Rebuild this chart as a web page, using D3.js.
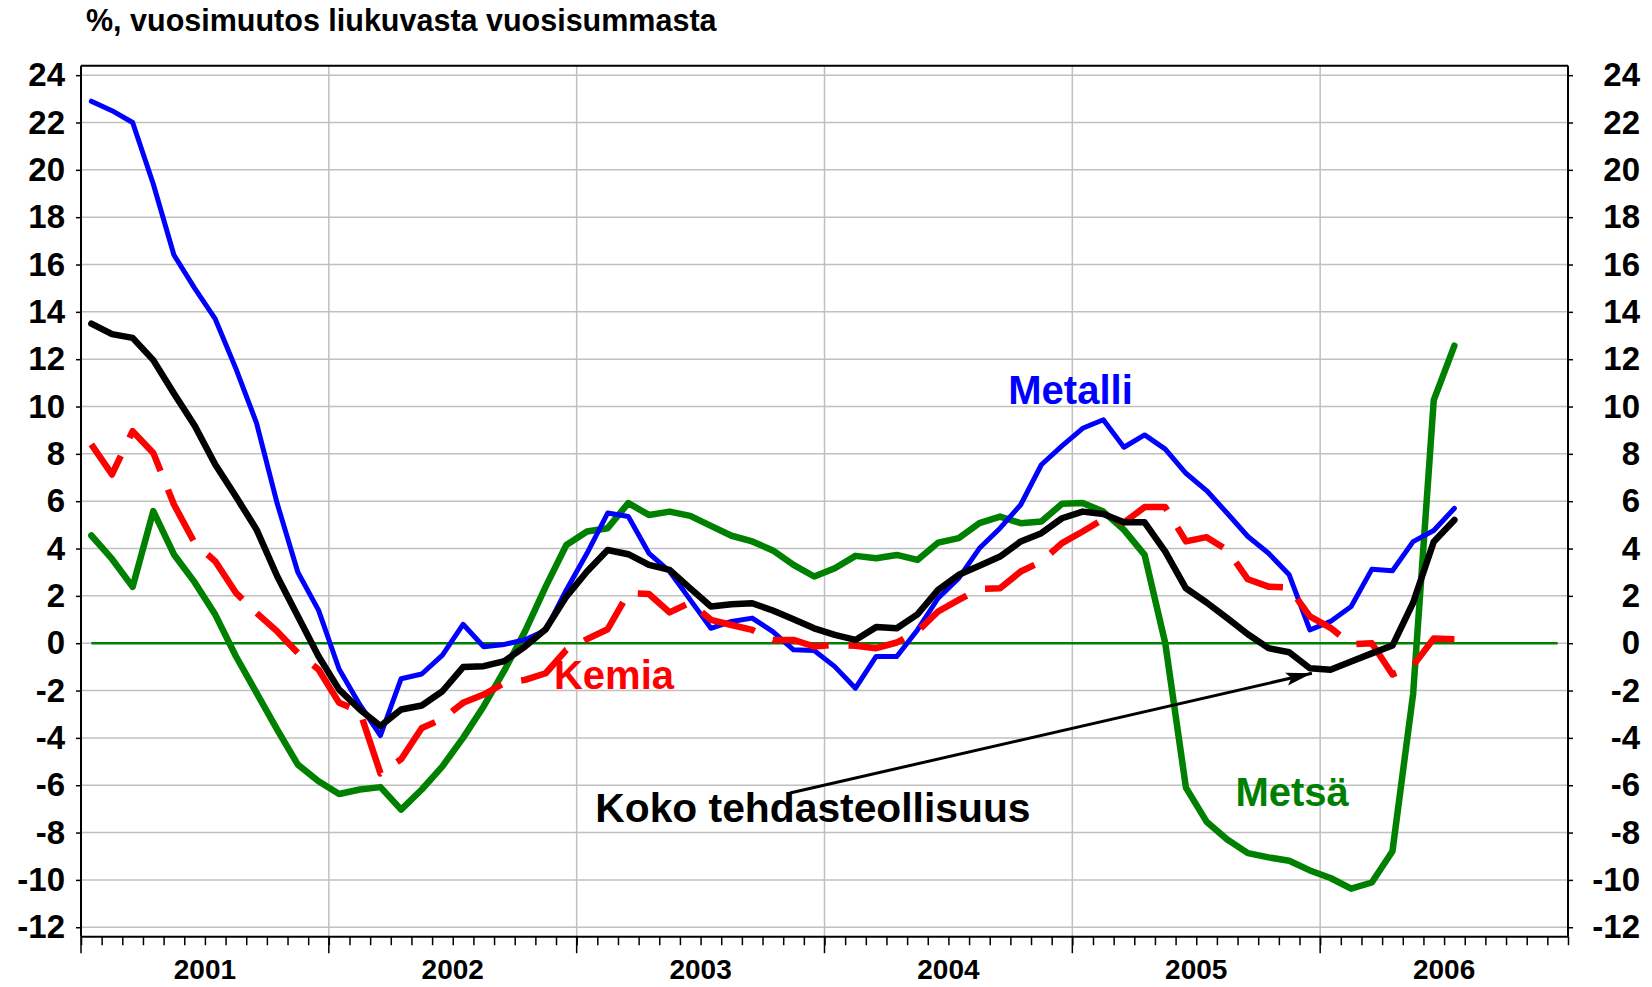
<!DOCTYPE html>
<html>
<head>
<meta charset="utf-8">
<script src="https://cdn.jsdelivr.net/npm/d3@7"></script>
<style>
  body { margin: 0; background: #fff; }
  svg { display: block; font-family: "Liberation Sans", Arial, sans-serif; font-weight: bold; }
</style>
</head>
<body>
<div id="chart"></div>
<script>
// monthly values Jan 2001 .. Jul 2006
const years = ["2001", "2002", "2003", "2004", "2005", "2006"];
const yTicks = d3.range(-12, 25, 2);

const metalli = [22.9, 22.5, 22.0, 19.4, 16.4, 15.0, 13.7, 11.6, 9.3, 5.9, 3.0, 1.4,
    -1.1, -2.6, -3.9, -1.5, -1.3, -0.5, 0.8, -0.15, -0.05, 0.15, 0.55, 2.25,
    3.8, 5.5, 5.35, 3.8, 3.03, 1.83, 0.63, 0.92, 1.06, 0.49, -0.28, -0.31,
    -0.99, -1.9, -0.56, -0.56, 0.56, 1.9, 2.75, 4.01, 4.86, 5.85, 7.54, 8.34,
    9.08, 9.44, 8.28, 8.8, 8.2, 7.18, 6.45, 5.49, 4.51, 3.8, 2.89, 0.56,
    0.92, 1.55, 3.12, 3.06, 4.29, 4.76, 5.7];

const koko = [13.5, 13.06, 12.9, 11.96, 10.55, 9.2, 7.55, 6.2, 4.8, 2.83, 1.14, -0.55,
    -1.96, -2.8, -3.5, -2.8, -2.63, -2.03, -1.01, -0.97, -0.76, -0.14, 0.59, 1.97,
    3.03, 3.94, 3.76, 3.31, 3.1, 2.32, 1.55, 1.65, 1.69, 1.38, 1.01, 0.63,
    0.35, 0.14, 0.68, 0.63, 1.22, 2.25, 2.89, 3.27, 3.66, 4.3, 4.65, 5.28,
    5.56, 5.46, 5.11, 5.11, 3.87, 2.32, 1.72, 1.06, 0.38, -0.21, -0.38, -1.06,
    -1.12, -0.77, -0.43, -0.1, 1.71, 4.29, 5.21];

const kemia = [8.4, 7.13, 8.96, 8.04, 5.86, 4.24, 3.46, 2.13, 1.28, 0.5, -0.41, -1.11,
    -2.52, -2.87, -5.5, -4.9, -3.58, -3.2, -2.52, -2.17, -1.68, -1.55, -1.27, -0.28,
    0.17, 0.59, 2.11, 2.08, 1.3, 1.72, 0.99, 0.77, 0.56, 0.14, 0.14, -0.14,
    -0.07, -0.11, -0.21, 0.03, 0.5, 1.34, 1.83, 2.3, 2.32, 3.03, 3.45, 4.23,
    4.72, 5.24, 5.1, 5.75, 5.75, 4.3, 4.48, 3.94, 2.7, 2.39, 2.35, 1.13,
    0.65, -0.05, 0.0, -1.32, -0.95, 0.2, 0.17];

const metsa = [4.55, 3.56, 2.38, 5.58, 3.75, 2.58, 1.21, -0.55, -2.1, -3.65, -5.13, -5.83,
    -6.37, -6.18, -6.08, -7.03, -6.18, -5.2, -4.0, -2.66, -1.15, 0.5, 2.39, 4.15,
    4.72, 4.86, 5.92, 5.42, 5.56, 5.38, 4.96, 4.54, 4.3, 3.92, 3.31, 2.82,
    3.17, 3.69, 3.59, 3.73, 3.52, 4.25, 4.44, 5.07, 5.35, 5.07, 5.14, 5.89,
    5.92, 5.56, 4.79, 3.73, 0.0, -6.1, -7.54, -8.29, -8.87, -9.05, -9.19, -9.6,
    -9.92, -10.37, -10.11, -8.79, -2.15, 10.27, 12.57];

const seriesNames = ["Metsä", "Metalli", "Kemia", "Koko tehdasteollisuus"];

class IndustryChart {
    constructor(containerId) {
        this.width = 1652;
        this.height = 987;
        this.plot = { left: 81, right: 1568, top: 65.7, bottom: 936.7 };
        this.nMonths = 72;

        this.svg = d3.select(`#${containerId}`)
            .append("svg")
            .attr("width", this.width)
            .attr("height", this.height);

        this.x = d3.scaleLinear()
            .domain([0, this.nMonths])
            .range([this.plot.left, this.plot.right]);

        this.y = d3.scaleLinear()
            .domain([-12.4, 24.4])
            .range([this.plot.bottom, this.plot.top]);

        this.drawGrid();
        this.drawAxes();
        this.drawSeries();
        this.drawLabels();
    }

    drawGrid() {
        const g = this.svg.append("g").attr("class", "grid");
        g.selectAll(".hgrid")
            .data(yTicks)
            .join("line")
            .attr("x1", this.plot.left).attr("x2", this.plot.right)
            .attr("y1", d => this.y(d)).attr("y2", d => this.y(d))
            .attr("stroke", "#c0c0c0").attr("stroke-width", 1.5);

        g.selectAll(".vgrid")
            .data(d3.range(1, years.length))
            .join("line")
            .attr("x1", d => this.x(d * 12)).attr("x2", d => this.x(d * 12))
            .attr("y1", this.plot.top).attr("y2", this.plot.bottom)
            .attr("stroke", "#c0c0c0").attr("stroke-width", 1.5);
    }

    drawAxes() {
        const fontSize = 33;
        const fmt = d => String(d); // plain hyphen minus like the original

        const left = this.svg.append("g")
            .attr("transform", `translate(${this.plot.left},0)`)
            .call(d3.axisLeft(this.y).tickValues(yTicks).tickFormat(fmt).tickSize(5).tickPadding(11).tickSizeOuter(0));
        const right = this.svg.append("g")
            .attr("transform", `translate(${this.plot.right},0)`)
            .call(d3.axisRight(this.y).tickValues(yTicks).tickFormat(fmt).tickSize(5).tickPadding(11).tickSizeOuter(0));
        right.selectAll("text").attr("text-anchor", "end").attr("x", 72);

        [left, right].forEach(a => {
            a.selectAll("text")
                .attr("font-size", fontSize)
                .attr("font-family", "Liberation Sans, Arial, sans-serif")
                .attr("font-weight", "bold")
                .attr("fill", "#000");
            a.selectAll("line").attr("stroke", "#000").attr("stroke-width", 1.5);
            a.select(".domain").attr("stroke", "#000").attr("stroke-width", 2)
                .attr("d", `M0,${this.plot.top}V${this.plot.bottom}`);
        });

        // top border
        this.svg.append("line")
            .attr("x1", this.plot.left).attr("x2", this.plot.right)
            .attr("y1", this.plot.top).attr("y2", this.plot.top)
            .attr("stroke", "#000").attr("stroke-width", 2);

        // bottom axis: month ticks + year ticks
        const bottom = this.svg.append("g")
            .attr("transform", `translate(0,${this.plot.bottom})`)
            .call(d3.axisBottom(this.x).tickValues(d3.range(0, this.nMonths + 1)).tickSize(8.5).tickFormat("").tickSizeOuter(0));
        bottom.selectAll("line").attr("stroke", "#000").attr("stroke-width", 1.5);
        bottom.select(".domain").attr("stroke", "#000").attr("stroke-width", 2)
            .attr("d", `M${this.plot.left},0H${this.plot.right}`);

        this.svg.append("g")
            .selectAll("line")
            .data(d3.range(0, years.length))
            .join("line")
            .attr("x1", d => this.x(d * 12)).attr("x2", d => this.x(d * 12))
            .attr("y1", this.plot.bottom).attr("y2", this.plot.bottom + 16.5)
            .attr("stroke", "#000").attr("stroke-width", 1.5);

        this.svg.append("g")
            .selectAll("text")
            .data(years)
            .join("text")
            .attr("x", (d, i) => this.x(i * 12 + 6))
            .attr("y", 979)
            .attr("text-anchor", "middle")
            .attr("font-size", 28)
            .text(d => d);

        this.svg.append("text")
            .attr("x", 86)
            .attr("y", 31)
            .attr("font-size", 30.5)
            .text("%, vuosimuutos liukuvasta vuosisummasta");
    }

    drawSeries() {
        // zero reference line across all months
        this.svg.append("line")
            .attr("x1", this.x(0.5)).attr("x2", this.x(this.nMonths - 0.5))
            .attr("y1", this.y(0)).attr("y2", this.y(0))
            .attr("stroke", "#008000").attr("stroke-width", 2.5);

        const line = d3.line()
            .x((d, i) => this.x(i + 0.5))
            .y(d => this.y(d));

        const series = [
            { values: metsa, color: "#008000", width: 6.5, dash: null },
            { values: metalli, color: "#0000ff", width: 5, dash: null },
            { values: kemia, color: "#ff0000", width: 6.5, dash: "57,20" },
            { values: koko, color: "#000000", width: 6.5, dash: null }
        ];

        series.forEach(s => {
            this.svg.append("path")
                .datum(s.values)
                .attr("d", line)
                .attr("fill", "none")
                .attr("stroke", s.color)
                .attr("stroke-width", s.width)
                .attr("stroke-linejoin", "round")
                .attr("stroke-linecap", s.dash ? "butt" : "round")
                .attr("stroke-dasharray", s.dash);
        });
    }

    drawLabels() {
        // series labels placed in data units (month offset, percent)
        const labels = [
            { text: seriesNames[1], mx: 44.9, v: 10.11, color: "#0000ff", size: 40 },
            { text: seriesNames[2], mx: 22.9, v: -1.93, color: "#ff0000", size: 40 },
            { text: seriesNames[0], mx: 55.9, v: -6.87, color: "#008000", size: 40 },
            { text: seriesNames[3], mx: 24.9, v: -7.54, color: "#000000", size: 40.8 }
        ];

        this.svg.append("g")
            .selectAll("text")
            .data(labels)
            .join("text")
            .attr("x", d => this.x(d.mx))
            .attr("y", d => this.y(d.v))
            .attr("font-size", d => d.size)
            .attr("fill", d => d.color)
            .text(d => d.text);

        this.svg.append("defs").append("marker")
            .attr("id", "arrowhead")
            .attr("markerUnits", "userSpaceOnUse")
            .attr("markerWidth", 28).attr("markerHeight", 14)
            .attr("refX", 26).attr("refY", 7)
            .attr("orient", "auto")
            .append("path")
            .attr("d", "M0,0.5L26,7L0,13.5L5,7Z")
            .attr("fill", "#000");

        const arrow = { from: [34.33, -6.33], to: [59.6, -1.27] };
        this.svg.append("line")
            .attr("x1", this.x(arrow.from[0])).attr("y1", this.y(arrow.from[1]))
            .attr("x2", this.x(arrow.to[0])).attr("y2", this.y(arrow.to[1]))
            .attr("stroke", "#000").attr("stroke-width", 3)
            .attr("marker-end", "url(#arrowhead)");
    }
}

new IndustryChart("chart");
</script>
</body>
</html>
